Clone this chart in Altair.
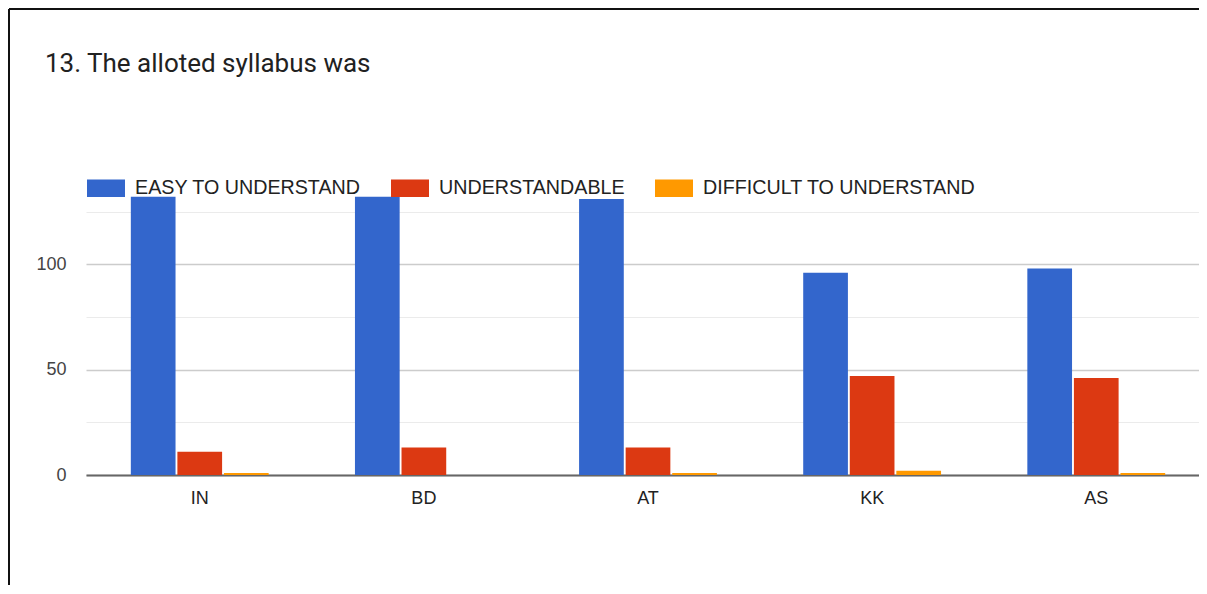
import altair as alt
import pandas as pd

# ---- data ----
categories = ["IN", "BD", "AT", "KK", "AS"]
series = ["EASY TO UNDERSTAND", "UNDERSTANDABLE", "DIFFICULT TO UNDERSTAND"]
easy = [132, 132, 131, 96, 98]
understandable = [11, 13, 13, 47, 46]
difficult = [1, 0, 1, 2, 1]
colors = ["#3366cc", "#dc3912", "#ff9900"]
y_ticks = [0, 25, 50, 75, 100, 125]
title_text = "13. The alloted syllabus was"

rows = []
for s, vals in zip(series, [easy, understandable, difficult]):
    for c, v in zip(categories, vals):
        rows.append({"category": c, "series": s, "value": v})
df = pd.DataFrame(rows)

bars = alt.Chart(df).mark_bar().encode(
    x=alt.X(
        "category:N",
        sort=categories,
        scale=alt.Scale(paddingInner=0.385, paddingOuter=0.2, range=[0, 1124]),
        axis=alt.Axis(
            title=None,
            labelAngle=0,
            ticks=False,
            labelPadding=14,
            labelFontSize=18,
            labelFont="Liberation Sans",
            labelColor="#222222",
            domainColor="#666666",
            domainWidth=2,
            grid=False,
        ),
    ),
    xOffset=alt.XOffset("series:N", sort=series, scale=alt.Scale(paddingInner=0.04)),
    y=alt.Y(
        "value:Q",
        scale=alt.Scale(domain=[0, 140], nice=False),
        axis=alt.Axis(
            title=None,
            values=y_ticks,
            labelExpr="(datum.value % 50 === 0) ? datum.label : ''",
            domain=False,
            ticks=False,
            labelPadding=20,
            labelFontSize=18,
            labelFont="Liberation Sans",
            labelColor="#444444",
            gridColor={
                "condition": {"test": "datum.value % 50 === 0", "value": "#cccccc"},
                "value": "#ebebeb",
            },
            gridWidth={
                "condition": {"test": "datum.value % 50 === 0", "value": 1.6},
                "value": 1.2,
            },
        ),
    ),
    color=alt.Color(
        "series:N",
        sort=series,
        scale=alt.Scale(domain=series, range=colors),
        legend=alt.Legend(
            title=None,
            orient="none",
            legendX=1,
            legendY=-11,
            direction="horizontal",
            symbolType="M-1,-0.46H1V0.46H-1Z",
            symbolSize=1444,
            symbolStrokeWidth=0,
            symbolOpacity=1,
            labelFontSize=19.7,
            labelFont="Liberation Sans",
            labelColor="#222222",
            labelOffset=10,
            labelLimit=500,
            columnPadding=30,
            padding=0,
        ),
    ),
)

title_df = pd.DataFrame({"t": [title_text]})
title = alt.Chart(title_df).mark_text(
    align="left", baseline="alphabetic", font="Roboto", fontSize=26, color="#212121"
).encode(text="t:N", x=alt.value(-41), y=alt.value(-107.7))

frame_df = pd.DataFrame({"k": [0]})
left_line = alt.Chart(frame_df).mark_rule(color="#111111", strokeWidth=2).encode(
    x=alt.value(-77), y=alt.value(-171), y2=alt.value(600)
)
top_line = alt.Chart(frame_df).mark_rule(color="#111111", strokeWidth=2).encode(
    x=alt.value(-77), x2=alt.value(1200), y=alt.value(-171)
)

chart = alt.layer(bars, title, left_line, top_line).properties(
    width=1113,
    height=295,
    padding={"left": 78, "top": 172, "right": 0, "bottom": 110},
    autosize=alt.AutoSizeParams(type="none"),
).configure_view(stroke=None)

chart.save("out.html", embed_options={"renderer": "svg", "actions": False})
